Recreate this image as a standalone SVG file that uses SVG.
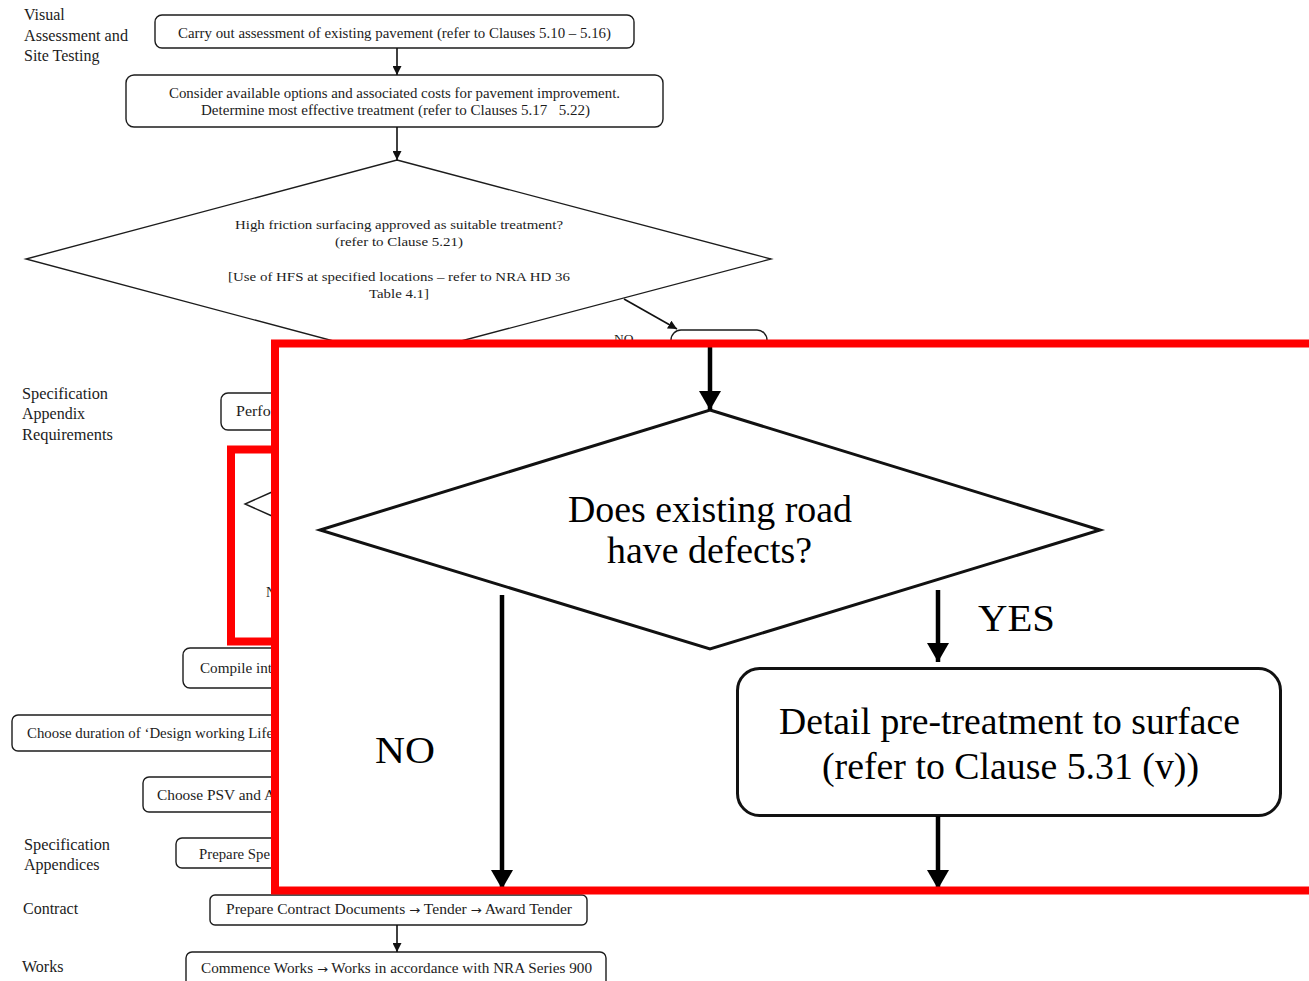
<svg xmlns="http://www.w3.org/2000/svg" width="1309" height="981" viewBox="0 0 1309 981">
  <defs>
    <style>
      .t { font-family: "Liberation Serif", "Times New Roman", serif; fill: #1c1c1c; }
      .s { font-size: 14px; }
      .d { font-size: 13.5px; }
      .lab { font-size: 16px; }
      .big { font-size: 38px; fill: #000; }
      .ar { font-family: "DejaVu Sans", sans-serif; font-size: 12px; }
      .box { fill: #fff; stroke: #1c1c1c; stroke-width: 1.4; }
      .bigbox { fill: #fff; stroke: #111; stroke-width: 3; }
      .conn { fill: none; stroke: #111; stroke-width: 1.6; }
      .thick { fill: none; stroke: #000; stroke-width: 4.5; }
      .hl { fill: none; stroke: #ff0000; stroke-width: 8; }
    </style>
    <marker id="arr" markerUnits="userSpaceOnUse" markerWidth="9" markerHeight="9" refX="9" refY="4.5" orient="auto">
      <path d="M0,0 L9,4.5 L0,9 z" fill="#111"/>
    </marker>
    <marker id="arrBig" markerUnits="userSpaceOnUse" markerWidth="19" markerHeight="22" refX="19" refY="11" orient="auto">
      <path d="M0,0 L19,11 L0,22 z" fill="#000"/>
    </marker>
  </defs>

  <rect width="1309" height="981" fill="#fff"/>

  <!-- stage labels down the left margin -->
  <g id="stage-labels" class="t lab">
    <text x="24" y="20">Visual</text>
    <text x="24" y="41" textLength="104" lengthAdjust="spacingAndGlyphs">Assessment and</text>
    <text x="24" y="61">Site Testing</text>
    <text x="22" y="399" textLength="86" lengthAdjust="spacingAndGlyphs">Specification</text>
    <text x="22" y="419">Appendix</text>
    <text x="22" y="440" textLength="91" lengthAdjust="spacingAndGlyphs">Requirements</text>
    <text x="24" y="850" textLength="86" lengthAdjust="spacingAndGlyphs">Specification</text>
    <text x="24" y="870">Appendices</text>
    <text x="23" y="914">Contract</text>
    <text x="22" y="972">Works</text>
  </g>

  <!-- process nodes -->
  <g id="assess">
    <rect class="box" x="155" y="15" width="479" height="33" rx="7"/>
    <text class="t s" x="178" y="38" textLength="433" lengthAdjust="spacingAndGlyphs">Carry out assessment of existing pavement (refer to Clauses 5.10 – 5.16)</text>
  </g>

  <g id="options">
    <rect class="box" x="126" y="75" width="537" height="52" rx="8"/>
    <text class="t s" x="169" y="98" textLength="451" lengthAdjust="spacingAndGlyphs">Consider available options and associated costs for pavement improvement.</text>
    <text class="t s" x="201" y="115" textLength="389" lengthAdjust="spacingAndGlyphs">Determine most effective treatment (refer to Clauses 5.17 &#160; 5.22)</text>
  </g>

  <g id="hfs-decision">
    <polygon class="box" points="397,160 771,259 397,358 26,259"/>
    <text class="t d" x="235" y="229" textLength="328" lengthAdjust="spacingAndGlyphs">High friction surfacing approved as suitable treatment?</text>
    <text class="t d" x="335" y="246" textLength="128" lengthAdjust="spacingAndGlyphs">(refer to Clause 5.21)</text>
    <text class="t d" x="228" y="281" textLength="342" lengthAdjust="spacingAndGlyphs">[Use of HFS at specified locations – refer to NRA HD 36</text>
    <text class="t d" x="369" y="298" textLength="60" lengthAdjust="spacingAndGlyphs">Table 4.1]</text>
  </g>

  <g id="no-branch">
    <rect class="box" x="671" y="330" width="96" height="60" rx="10"/>
    <text class="t d" x="614" y="343">NO</text>
  </g>

  <g id="performance">
    <rect class="box" x="221" y="393" width="120" height="37" rx="7"/>
    <text class="t s" x="236" y="416" textLength="40" lengthAdjust="spacingAndGlyphs">Perfor</text>
  </g>

  <g id="defects-thumb">
    <polyline class="box" points="272,492 245,504 272,516" fill="none"/>
    <text class="t s" x="266" y="597">N</text>
  </g>
  <rect id="thumb-frame" class="hl" x="231" y="449.5" width="100" height="192"/>

  <g id="compile">
    <rect class="box" x="183" y="648" width="150" height="40" rx="7"/>
    <text class="t s" x="200" y="673" textLength="72" lengthAdjust="spacingAndGlyphs">Compile int</text>
  </g>

  <g id="design-life">
    <rect class="box" x="12" y="715" width="330" height="36" rx="6"/>
    <text class="t s" x="27" y="738" textLength="246" lengthAdjust="spacingAndGlyphs">Choose duration of ‘Design working Life</text>
  </g>

  <g id="psv">
    <rect class="box" x="143" y="777" width="200" height="35" rx="6"/>
    <text class="t s" x="157" y="800" textLength="118" lengthAdjust="spacingAndGlyphs">Choose PSV and A</text>
  </g>

  <g id="prepare-spec">
    <rect class="box" x="176" y="838" width="170" height="30" rx="6"/>
    <text class="t s" x="199" y="859" textLength="71" lengthAdjust="spacingAndGlyphs">Prepare Spe</text>
  </g>

  <g id="contract">
    <rect class="box" x="210" y="895" width="377" height="30" rx="5"/>
    <text class="t s" x="226" y="914" textLength="346" lengthAdjust="spacingAndGlyphs">Prepare Contract Documents <tspan class="ar">→</tspan> Tender <tspan class="ar">→</tspan> Award Tender</text>
  </g>

  <g id="works">
    <rect class="box" x="186" y="952" width="420" height="45" rx="6"/>
    <text class="t s" x="201" y="973" textLength="391" lengthAdjust="spacingAndGlyphs">Commence Works <tspan class="ar">→</tspan> Works in accordance with NRA Series 900</text>
  </g>

  <g id="connectors">
    <line class="conn" x1="397" y1="48" x2="397" y2="75" marker-end="url(#arr)"/>
    <line class="conn" x1="397" y1="127" x2="397" y2="160" marker-end="url(#arr)"/>
    <line class="conn" x1="624" y1="299" x2="677" y2="329" marker-end="url(#arr)"/>
    <line class="conn" x1="397" y1="925" x2="397" y2="952" marker-end="url(#arr)"/>
  </g>

  <!-- enlarged detail: defects check -->
  <g id="detail-panel">
    <rect x="275" y="343.5" width="1100" height="547" fill="#fff"/>

    <g id="defects-decision">
      <polygon class="bigbox" points="710,410 1100,530 710,649 320,530"/>
      <text class="t big" x="568" y="522" textLength="284" lengthAdjust="spacingAndGlyphs">Does existing road</text>
      <text class="t big" x="607" y="563" textLength="205" lengthAdjust="spacingAndGlyphs">have defects?</text>
    </g>

    <g id="pre-treatment">
      <rect class="bigbox" x="737.5" y="668.5" width="543" height="147" rx="22"/>
      <text class="t big" x="779" y="734" textLength="461" lengthAdjust="spacingAndGlyphs">Detail pre-treatment to surface</text>
      <text class="t big" x="822" y="779" textLength="377" lengthAdjust="spacingAndGlyphs">(refer to Clause 5.31 (v))</text>
    </g>

    <g id="detail-labels" class="t big">
      <text x="375" y="763" textLength="60" lengthAdjust="spacingAndGlyphs">NO</text>
      <text x="978" y="631" textLength="77" lengthAdjust="spacingAndGlyphs">YES</text>
    </g>

    <g id="detail-connectors">
      <line class="thick" x1="710" y1="347" x2="710" y2="410" marker-end="url(#arrBig)"/>
      <line class="thick" x1="502" y1="595" x2="502" y2="889" marker-end="url(#arrBig)"/>
      <line class="thick" x1="938" y1="590" x2="938" y2="662" marker-end="url(#arrBig)"/>
      <line class="thick" x1="938" y1="816" x2="938" y2="889" marker-end="url(#arrBig)"/>
    </g>

    <rect id="detail-frame" class="hl" x="275" y="343.5" width="1100" height="547"/>
  </g>
</svg>
